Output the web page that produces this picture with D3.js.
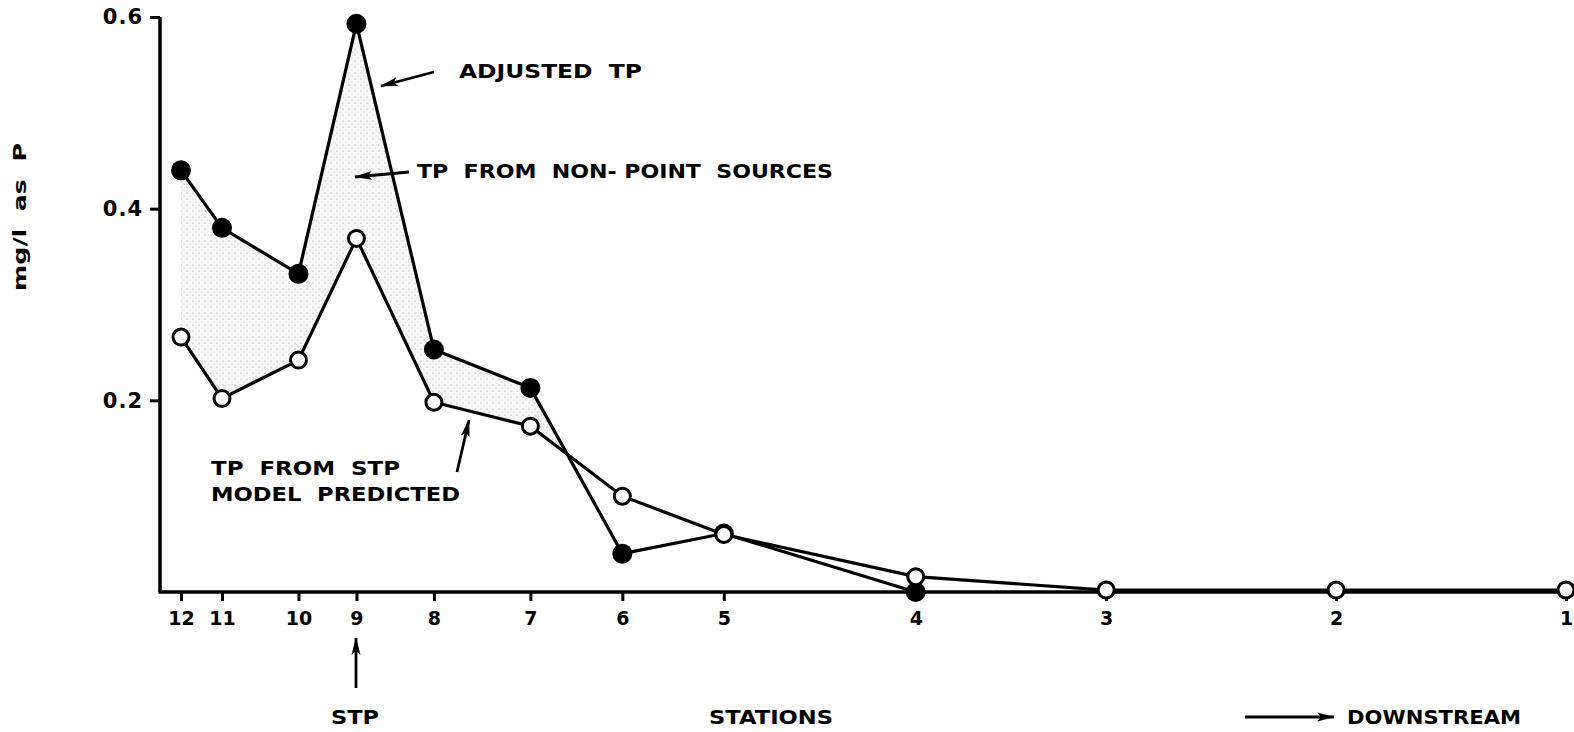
<!DOCTYPE html>
<html>
<head>
<meta charset="utf-8">
<script src="https://cdn.jsdelivr.net/npm/d3@7/dist/d3.min.js"></script>
<style>
  html, body { margin: 0; padding: 0; background: #fff; }
  svg { display: block; }
  text { font-family: "DejaVu Sans", "Liberation Sans", sans-serif; font-weight: bold; fill: #000; }
</style>
</head>
<body>
<svg id="chart" width="1574" height="732"></svg>
<script>
// ---- data ----
const stations = ["12","11","10","9","8","7","6","5","4","3","2","1"];
const riverKm = [0, 0.82, 2.35, 3.51, 5.06, 6.99, 8.83, 10.86, 14.70, 18.51, 23.11, 27.71];
const adjustedTP = [0.44, 0.38, 0.332, 0.593, 0.253, 0.213, 0.04, 0.061, 0.0, null, null, null];
const predictedTP = [0.266, 0.202, 0.242, 0.369, 0.198, 0.173, 0.10, 0.06, 0.016, 0.002, 0.002, 0.002];
const yTicks = [0.2, 0.4, 0.6];
const yTitle = "mg/l  as  P";
const xTitle = "STATIONS";
const annotations = {
  adjusted: "ADJUSTED  TP",
  nonPoint: "TP  FROM  NON- POINT  SOURCES",
  stp1: "TP  FROM  STP",
  stp2: "MODEL  PREDICTED",
  stp: "STP",
  downstream: "DOWNSTREAM"
};

// ---- layout ----
const svg = d3.select("#chart");
const x = d3.scaleLinear().domain([0, 27.71]).range([181, 1566]);
const y = d3.scaleLinear().domain([0, 0.6]).range([592, 17]);

// defs
const defs = svg.append("defs");
const pat = defs.append("pattern").attr("id", "stipple")
  .attr("width", 6).attr("height", 6).attr("patternUnits", "userSpaceOnUse");
pat.append("rect").attr("width", 6).attr("height", 6).attr("fill", "#f8f8f8");
pat.append("circle").attr("cx", 1).attr("cy", 1).attr("r", 0.6).attr("fill", "#999");
pat.append("circle").attr("cx", 4).attr("cy", 4).attr("r", 0.5).attr("fill", "#bbb");

defs.append("marker").attr("id", "arrow")
  .attr("viewBox", "0 0 18 11").attr("refX", 17).attr("refY", 5.5)
  .attr("markerWidth", 18).attr("markerHeight", 11)
  .attr("markerUnits", "userSpaceOnUse").attr("orient", "auto")
  .append("path").attr("d", "M0,1 L18,5.5 L0,10 L4,5.5 Z").attr("fill", "#000");

// ---- shaded area (where adjusted > predicted) ----
const pts = [];
for (let i = 0; i < stations.length - 1; i++) {
  const a0 = adjustedTP[i], a1 = adjustedTP[i + 1];
  const p0 = predictedTP[i], p1 = predictedTP[i + 1];
  if (a0 == null || a1 == null) break;
  const d0 = a0 - p0, d1 = a1 - p1;
  if (d0 >= 0) pts.push({ k: riverKm[i], hi: a0, lo: p0 });
  if (d0 >= 0 && d1 < 0) {
    const t = d0 / (d0 - d1);
    const k = riverKm[i] + t * (riverKm[i + 1] - riverKm[i]);
    const v = a0 + t * (a1 - a0);
    pts.push({ k: k, hi: v, lo: v });
    break;
  }
}
const area = d3.area().x(d => x(d.k)).y0(d => y(d.lo)).y1(d => y(d.hi));
svg.append("path").datum(pts).attr("d", area).attr("fill", "url(#stipple)");

// ---- axes ----
const yAxis = d3.axisLeft(y).tickValues(yTicks).tickSize(10).tickSizeOuter(0)
  .tickPadding(7).tickFormat(d3.format(".1f"));
const gy = svg.append("g").attr("transform", "translate(160,0)").call(yAxis);
gy.select(".domain").attr("stroke-width", 3.5).attr("d", `M0,${y(0.6)}V${y(0)}`);
gy.selectAll(".tick line").attr("stroke-width", 3);
gy.selectAll(".tick text").attr("font-size", 21).style("letter-spacing", "1px")
  .attr("font-family", "DejaVu Sans").attr("font-weight", "bold");

const xAxis = d3.axisBottom(x).tickValues(riverKm).tickSize(9).tickSizeOuter(0)
  .tickPadding(11).tickFormat((d, i) => stations[i]);
const gx = svg.append("g").attr("transform", `translate(0,${y(0)})`).call(xAxis);
gx.select(".domain").remove();
gx.selectAll(".tick line").attr("stroke-width", 3);
gx.selectAll(".tick text").attr("font-size", 19)
  .attr("font-family", "DejaVu Sans").attr("font-weight", "bold");
svg.append("line").attr("x1", 158.5).attr("x2", 1574).attr("y1", y(0)).attr("y2", y(0))
  .attr("stroke", "#000").attr("stroke-width", 3.5);

// ---- lines ----
const line = d3.line().defined(d => d.v != null).x(d => x(d.k)).y(d => y(d.v));
const adjData = stations.map((s, i) => ({ k: riverKm[i], v: adjustedTP[i] }));
const preData = stations.map((s, i) => ({ k: riverKm[i], v: predictedTP[i] }));

svg.append("path").datum(adjData).attr("d", line)
  .attr("fill", "none").attr("stroke", "#000").attr("stroke-width", 3.2);
svg.append("path").datum(preData).attr("d", line)
  .attr("fill", "none").attr("stroke", "#000").attr("stroke-width", 3.2);

svg.append("g").selectAll("circle").data(adjData.filter(d => d.v != null)).join("circle")
  .attr("cx", d => x(d.k)).attr("cy", d => y(d.v)).attr("r", 10).attr("fill", "#000");
svg.append("g").selectAll("circle").data(preData.filter(d => d.v != null)).join("circle")
  .attr("cx", d => x(d.k)).attr("cy", d => y(d.v)).attr("r", 8)
  .attr("fill", "#fff").attr("stroke", "#000").attr("stroke-width", 3);

// ---- texts ----
function label(txt, x0, yc, w, size) {
  const t = svg.append("text").attr("x", x0).attr("y", yc).attr("dy", "0.36em")
    .attr("font-size", size).style("white-space", "pre").text(txt);
  if (w) t.attr("textLength", w).attr("lengthAdjust", "spacingAndGlyphs");
  return t;
}
label(annotations.adjusted, 459, 71, 183, 20);
label(annotations.nonPoint, 417, 171, 416, 20);
label(annotations.stp1, 211, 468, 189, 20);
label(annotations.stp2, 211, 494, 249, 20);
label(annotations.stp, 331, 717, 48, 20);
label(xTitle, 709, 717, 124, 20);
label(annotations.downstream, 1347, 717, 174, 20);

svg.append("text")
  .attr("transform", "translate(20,217) rotate(-90)")
  .attr("text-anchor", "middle").attr("dy", "0.36em")
  .attr("font-size", 18).style("white-space", "pre")
  .attr("textLength", 148).attr("lengthAdjust", "spacingAndGlyphs")
  .text(yTitle);

// ---- arrows ----
function arrow(x1, y1, x2, y2) {
  svg.append("line").attr("x1", x1).attr("y1", y1).attr("x2", x2).attr("y2", y2)
    .attr("stroke", "#000").attr("stroke-width", 2.8).attr("marker-end", "url(#arrow)");
}
arrow(434, 72, 381, 86);
arrow(409, 172, 355, 177);
arrow(457, 472, 469, 420);
arrow(356, 688, 356, 638);
arrow(1245, 717, 1334, 717);
</script>
</body>
</html>
